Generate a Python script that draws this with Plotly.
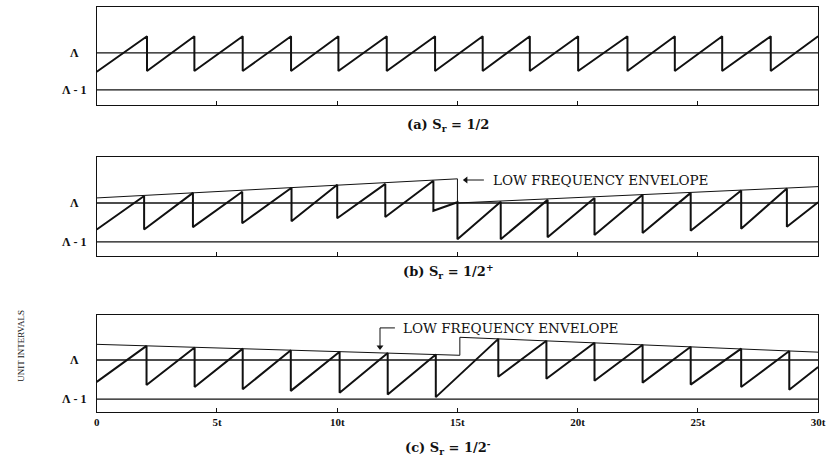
import plotly.graph_objects as go

# ---- time axis (units of t) ----
T_RANGE = [0, 30]
TICK_T = [0, 5, 10, 15, 20, 25, 30]
TICK_TEXT = ["0", "5t", "10t", "15t", "20t", "25t", "30t"]

# reference levels (unit intervals): Λ and Λ - 1
LEVEL_LAMBDA = 0.0
LEVEL_LAMBDA_M1 = -1.0

# ---- (a) S_r = 1/2 : sawtooth vertices (t, unit intervals) ----
A_T = [0, 2.09, 2.09, 4.06, 4.06, 6.07, 6.07, 8.08, 8.08, 10.05, 10.05,
       12.06, 12.06, 14.07, 14.07, 16.05, 16.05, 18.01, 18.01, 20.02, 20.02,
       22.07, 22.07, 24.04, 24.04, 26.01, 26.01, 28.03, 28.03, 30]
A_Y = [-0.51, 0.45, -0.49, 0.45, -0.49, 0.45, -0.49, 0.45, -0.49, 0.45, -0.49,
       0.45, -0.49, 0.45, -0.49, 0.45, -0.49, 0.45, -0.49, 0.45, -0.49,
       0.45, -0.49, 0.45, -0.49, 0.45, -0.49, 0.45, -0.49, 0.45]

# ---- (b) S_r = 1/2+ ----
B_T = [0, 1.97, 1.97, 4.0, 4.0, 6.05, 6.05, 8.1, 8.1, 10.0, 10.0, 12.0, 12.0,
       14.0, 14.0, 15.0, 15.0, 16.8, 16.8, 18.75, 18.75, 20.7, 20.7, 22.7, 22.7,
       24.7, 24.7, 26.8, 26.8, 28.7, 28.7, 30]
B_Y = [-0.68, 0.18, -0.68, 0.26, -0.62, 0.29, -0.52, 0.39, -0.47, 0.47, -0.39,
       0.49, -0.36, 0.57, -0.20, 0.02, -0.93, 0.03, -0.93, 0.08, -0.88, 0.13,
       -0.82, 0.21, -0.77, 0.26, -0.71, 0.32, -0.66, 0.37, -0.61, 0.02]
B_ENV_T = [0, 15.0, 15.0, 15.0, 30]
B_ENV_Y = [0.13, 0.62, 0.62, 0.0, 0.42]

# ---- (c) S_r = 1/2- ----
C_T = [0, 2.07, 2.07, 4.07, 4.07, 6.07, 6.07, 8.07, 8.07, 10.1, 10.1, 12.1, 12.1,
       14.1, 14.1, 16.7, 16.7, 18.7, 18.7, 20.7, 20.7, 22.7, 22.7, 24.7, 24.7,
       26.8, 26.8, 28.8, 28.8, 30]
C_Y = [-0.56, 0.36, -0.64, 0.32, -0.69, 0.29, -0.75, 0.25, -0.79, 0.21, -0.84,
       0.18, -0.88, 0.14, -0.95, 0.54, -0.43, 0.49, -0.48, 0.44, -0.53, 0.39,
       -0.58, 0.34, -0.63, 0.29, -0.69, 0.23, -0.76, -0.18]
C_ENV_T = [0, 15.1, 15.1, 30]
C_ENV_Y = [0.40, 0.12, 0.58, 0.20]

# callout leader paths (t, unit intervals); the last point carries the arrowhead
B_CALLOUT_T = [16.1, 15.35]
B_CALLOUT_Y = [0.59, 0.59]
C_CALLOUT_T = [12.4, 11.78, 11.78]
C_CALLOUT_Y = [0.82, 0.82, 0.33]

PANEL_CAPTIONS = ["<b>(a) S<sub>r</sub> = 1/2</b>",
                  "<b>(b) S<sub>r</sub> = 1/2<sup>+</sup></b>",
                  "<b>(c) S<sub>r</sub> = 1/2<sup>-</sup></b>"]
ENVELOPE_LABEL = "LOW FREQUENCY ENVELOPE"
Y_TITLE = "UNIT INTERVALS"

INK = "#111111"
SERIF = "Liberation Serif, DejaVu Serif, serif"

W, H = 836, 460
X_DOMAIN = [95 / W, 826 / W]
# pixel rows of each panel box (top, bottom) and its value range
PANELS = [
    dict(top=7, bottom=105, yrange=[-1.41, 1.24]),
    dict(top=157, bottom=256, yrange=[-1.36, 1.18]),
    dict(top=315, bottom=412, yrange=[-1.33, 1.15]),
]

fig = go.Figure()

series = [(A_T, A_Y, None, None), (B_T, B_Y, B_ENV_T, B_ENV_Y), (C_T, C_Y, C_ENV_T, C_ENV_Y)]

layout_axes = {}
for i, (p, (st, sy, et, ey)) in enumerate(zip(PANELS, series)):
    n = "" if i == 0 else str(i + 1)
    xa, ya = "x" + n, "y" + n
    # reference level lines
    for lv in (LEVEL_LAMBDA, LEVEL_LAMBDA_M1):
        fig.add_trace(go.Scatter(x=T_RANGE, y=[lv, lv], mode="lines",
                                 line=dict(color=INK, width=1.3),
                                 xaxis=xa, yaxis=ya, hoverinfo="skip"))
    # low frequency envelope
    if et is not None:
        fig.add_trace(go.Scatter(x=et, y=ey, mode="lines",
                                 line=dict(color=INK, width=1),
                                 xaxis=xa, yaxis=ya, hoverinfo="skip"))
    # phase sawtooth
    fig.add_trace(go.Scatter(x=st, y=sy, mode="lines",
                             line=dict(color=INK, width=2),
                             xaxis=xa, yaxis=ya))

    dom = [1 - p["bottom"] / H, 1 - p["top"] / H]
    layout_axes["xaxis" + n] = dict(
        domain=X_DOMAIN, range=T_RANGE, anchor=ya,
        showline=True, mirror=True, linecolor=INK, linewidth=1.3,
        ticks="inside", ticklen=4, tickwidth=1, tickcolor=INK,
        tickvals=TICK_T, ticktext=TICK_TEXT,
        showticklabels=(i == 2),
        tickfont=dict(family=SERIF, size=11, color=INK, weight="bold"),
        showgrid=False, zeroline=False)
    layout_axes["yaxis" + n] = dict(
        domain=dom, range=p["yrange"], anchor=xa,
        showline=True, mirror=True, linecolor=INK, linewidth=1.3,
        ticks="", showticklabels=False, showgrid=False, zeroline=False)

# envelope callout leaders with arrowheads
for path_t, path_y, ax_n, head in ((B_CALLOUT_T, B_CALLOUT_Y, "2", "triangle-left"),
                                   (C_CALLOUT_T, C_CALLOUT_Y, "3", "triangle-down")):
    fig.add_trace(go.Scatter(x=path_t, y=path_y, mode="lines",
                             line=dict(color=INK, width=1),
                             xaxis="x" + ax_n, yaxis="y" + ax_n, hoverinfo="skip"))
    fig.add_trace(go.Scatter(x=path_t[-1:], y=path_y[-1:], mode="markers",
                             marker=dict(symbol=head, size=6, color=INK),
                             xaxis="x" + ax_n, yaxis="y" + ax_n, hoverinfo="skip"))

annotations = []
cap_y = [125, 271, 447]
for i, p in enumerate(PANELS):
    n = "" if i == 0 else str(i + 1)
    annotations.append(dict(xref="paper", yref="y" + n, x=72 / W, y=LEVEL_LAMBDA,
                            text="<b>Λ</b>", showarrow=False,
                            xanchor="center", yanchor="middle",
                            font=dict(family=SERIF, size=12, color=INK)))
    annotations.append(dict(xref="paper", yref="y" + n, x=87 / W, y=LEVEL_LAMBDA_M1,
                            text="<b>Λ - 1</b>", showarrow=False,
                            xanchor="right", yanchor="middle",
                            font=dict(family=SERIF, size=12, color=INK)))
    annotations.append(dict(xref="paper", yref="paper", x=451 / W, y=1 - cap_y[i] / H,
                            text=PANEL_CAPTIONS[i], showarrow=False,
                            xanchor="center", yanchor="middle",
                            font=dict(family="DejaVu Serif", size=13, color=INK)))

# envelope labels
annotations.append(dict(xref="x2", yref="y2", x=16.4, y=0.59, text=ENVELOPE_LABEL,
                        showarrow=False, xanchor="left", yanchor="middle",
                        font=dict(family="DejaVu Serif", size=13.5, color=INK)))
annotations.append(dict(xref="x3", yref="y3", x=12.64, y=0.82, text=ENVELOPE_LABEL,
                        showarrow=False, xanchor="left", yanchor="middle",
                        font=dict(family="DejaVu Serif", size=13.5, color=INK)))

# vertical axis title
annotations.append(dict(xref="paper", yref="paper", x=18 / W, y=1 - 346 / H,
                        text=Y_TITLE, textangle=-90, showarrow=False,
                        xanchor="center", yanchor="middle",
                        font=dict(family=SERIF, size=9, color=INK)))

fig.update_layout(width=W, height=H, margin=dict(l=0, r=0, t=0, b=0),
                  paper_bgcolor="white", plot_bgcolor="white", showlegend=False,
                  annotations=annotations, **layout_axes)

fig.write_html("out.html")
